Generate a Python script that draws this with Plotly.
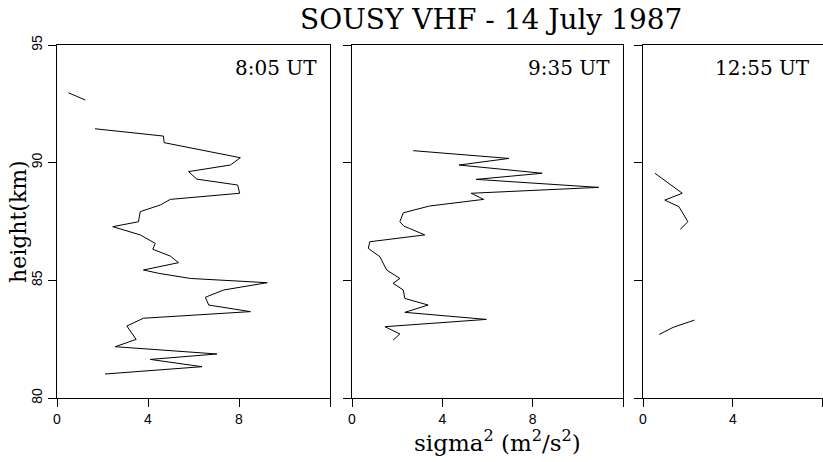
import plotly.graph_objects as go

# Panel 1: 8:05 UT
p1a_sigma = [0.5, 1.25]
p1a_height = [92.97, 92.66]
p1_sigma = [1.67, 4.68, 4.71, 8.06, 7.62, 5.78, 6.15, 7.94, 8.03, 4.98, 4.54, 3.66, 3.58, 2.45,
            3.66, 4.32, 4.21, 4.98, 5.34, 3.80, 4.46, 5.86, 9.24, 7.33, 6.52, 6.67, 8.50, 3.80,
            3.07, 3.48, 2.56, 7.03, 4.10, 6.37, 2.11]
p1_height = [91.44, 91.13, 90.85, 90.21, 89.90, 89.62, 89.30, 89.05, 88.70, 88.44, 88.20, 87.92, 87.49, 87.28,
             86.93, 86.57, 86.32, 86.03, 85.75, 85.44, 85.30, 85.08, 84.90, 84.59, 84.28, 83.95, 83.67, 83.39,
             83.06, 82.49, 82.18, 81.87, 81.64, 81.33, 81.02]

# Panel 2: 9:35 UT
p2_sigma = [2.71, 6.95, 4.74, 8.42, 5.50, 10.92, 5.28, 5.83, 3.44, 2.27, 2.12, 2.30, 2.56, 3.22,
            0.79, 0.72, 1.24, 1.53, 2.12, 1.82, 2.27, 2.34, 3.37, 2.34, 5.95, 1.46, 2.12, 1.82]
p2_height = [90.51, 90.18, 89.90, 89.55, 89.29, 88.95, 88.70, 88.44, 88.16, 87.87, 87.49, 87.30, 87.20, 86.93,
             86.64, 86.36, 86.00, 85.44, 85.08, 84.87, 84.59, 84.23, 83.95, 83.64, 83.34, 83.03, 82.72, 82.46]

# Panel 3: 12:55 UT
p3a_sigma = [0.53, 1.75, 0.97, 1.60, 2.00, 1.66]
p3a_height = [89.55, 88.70, 88.41, 88.13, 87.49, 87.17]
p3b_sigma = [0.72, 1.34, 2.29]
p3b_height = [82.70, 83.00, 83.31]

panel_labels = ["8:05 UT", "9:35 UT", "12:55 UT"]
x_tickvals = [0, 4, 8]
x_minor_tickvals = [12]
y_tickvals = [80, 85, 90, 95]

FONT = "DejaVu Serif"
TICKFONT = "Liberation Sans"
line = dict(color="black", width=1)

fig = go.Figure()
fig.add_trace(go.Scatter(x=p1a_sigma, y=p1a_height, mode="lines", line=line, xaxis="x", yaxis="y"))
fig.add_trace(go.Scatter(x=p1_sigma, y=p1_height, mode="lines", line=line, xaxis="x", yaxis="y"))
fig.add_trace(go.Scatter(x=p2_sigma, y=p2_height, mode="lines", line=line, xaxis="x2", yaxis="y2"))
fig.add_trace(go.Scatter(x=p3a_sigma, y=p3a_height, mode="lines", line=line, xaxis="x3", yaxis="y3"))
fig.add_trace(go.Scatter(x=p3b_sigma, y=p3b_height, mode="lines", line=line, xaxis="x3", yaxis="y3"))

W, H = 823, 462
ml, mr, mt, mb = 57, 0, 45, 64
pw = W - ml - mr
ph = H - mt - mb
def dom(a, b):
    return [(a - ml) / pw, min(1.0, (b - ml) / pw)]

xcommon = dict(showgrid=False, zeroline=False, showline=True, mirror=True, linecolor="black", linewidth=1.2,
               ticks="outside", ticklen=8, tickwidth=1, tickcolor="black",
               tickmode="array", tickvals=x_tickvals,
               minor=dict(tickmode="array", tickvals=x_minor_tickvals, ticks="outside", ticklen=8,
                          tickwidth=1, tickcolor="black", showgrid=False),
               tickfont=dict(family=TICKFONT, size=14, color="black"))
ycommon = dict(showgrid=False, zeroline=False, showline=True, mirror=True, linecolor="black", linewidth=1.2,
               ticks="outside", ticklen=8, tickwidth=1, tickcolor="black", range=[80, 95],
               tickvals=y_tickvals, tickangle=-90,
               tickfont=dict(family=TICKFONT, size=14, color="black"))

fig.update_layout(
    width=W, height=H, margin=dict(l=ml, r=mr, t=mt, b=mb),
    paper_bgcolor="white", plot_bgcolor="white", showlegend=False,
    xaxis=dict(xcommon, domain=dom(57, 330), range=[0, 12], anchor="y"),
    xaxis2=dict(xcommon, domain=dom(352, 623), range=[0, 12], anchor="y2"),
    xaxis3=dict(xcommon, domain=dom(643, 823), range=[0, 8.02], anchor="y3"),
    yaxis=dict(ycommon, anchor="x"),
    yaxis2=dict(ycommon, anchor="x2", showticklabels=False),
    yaxis3=dict(ycommon, anchor="x3", showticklabels=False),
)

annots = []
for i, lab in enumerate(panel_labels):
    s = "" if i == 0 else str(i + 1)
    annots.append(dict(text=lab, xref=f"x{s} domain", yref=f"y{s} domain", x=1, y=0.935,
                       xanchor="right", yanchor="middle", xshift=-11, showarrow=False,
                       font=dict(family=FONT, size=20, color="black")))
annots.append(dict(text="SOUSY VHF - 14 July 1987", xref="paper", yref="paper",
                   x=(491 - ml) / pw, y=1 + (mt - 19) / ph, xanchor="center", yanchor="middle",
                   showarrow=False, font=dict(family=FONT, size=28, color="black")))
annots.append(dict(text="height(km)", xref="paper", yref="paper", textangle=-90,
                   x=(18 - ml) / pw, y=1 - (222 - mt) / ph, xanchor="center", yanchor="middle",
                   showarrow=False, font=dict(family=FONT, size=22, color="black")))
annots.append(dict(text="sigma<sup>2</sup> (m<sup>2</sup>/s<sup>2</sup>)", xref="paper", yref="paper",
                   x=(497 - ml) / pw, y=-(441 - (H - mb)) / ph, xanchor="center", yanchor="middle",
                   showarrow=False, font=dict(family=FONT, size=23, color="black")))
fig.update_layout(annotations=annots)

fig.write_html("out.html")
